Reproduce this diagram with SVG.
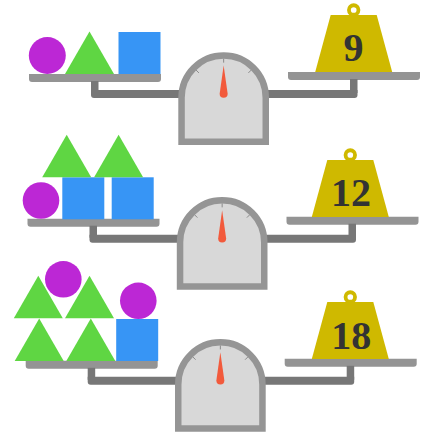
<svg xmlns="http://www.w3.org/2000/svg" xmlns:xlink="http://www.w3.org/1999/xlink" width="421" height="435" viewBox="0 0 421 435">
<style>
.pan{fill:#949494}
.bar{fill:#777777}
.body{fill:#d8d8d8;stroke:#959595;stroke-width:6.5}
.tick{stroke:#8a8a8a;stroke-width:1}
.needle{fill:#f25a3c}
.ball{fill:#bc27d5}
.tri{fill:#5fd643}
.box{fill:#3795f5}
.wt{fill:#cfb900}
.ring{fill:none;stroke:#cfb900;stroke-width:3.8}
.num{font-family:"Liberation Serif","DejaVu Serif",serif;font-weight:bold;font-size:40px;fill:#333333;text-anchor:middle}
</style>
<defs>
<g id="scale">
<path class="pan" d="M29,74H161V79A3 3 0 0 1 158,82H32A3 3 0 0 1 29,79Z"/>
<path class="pan" d="M288,72H420V77A3 3 0 0 1 417,80H291A3 3 0 0 1 288,77Z"/>
<rect class="bar" x="91" y="81" width="7.5" height="12"/>
<rect class="bar" x="350" y="79" width="7.5" height="14"/>
<path class="bar" d="M91,90H357.5V95A3 3 0 0 1 354.5,98H94A3 3 0 0 1 91,95Z"/>
<path class="body" d="M181.55,141.75V97.65A42.1 42.1 0 0 1 265.75,97.65V141.75Z"/>
<line class="tick" x1="223.65" y1="62.65" x2="223.65" y2="58.65"/>
<line class="tick" x1="198.9" y1="72.9" x2="196.07" y2="70.07"/>
<line class="tick" x1="248.4" y1="72.9" x2="251.23" y2="70.07"/>
<path class="needle" d="M223.65,65.5L227.65,93.7A4 4 0 0 1 219.65,93.7Z"/>
</g>
<g id="weight">
<circle class="ring" cx="0" cy="-5" r="4.75"/>
<polygon class="wt" points="-23,0 23,0 38.5,57 -38.5,57"/>
</g>
<polygon id="triangle" class="tri" points="0,0 24.5,42.5 -24.5,42.5"/>
</defs>
<rect width="421" height="435" fill="#ffffff"/>

<g id="scale1">
<use xlink:href="#scale"/>
<g id="scale1-left">
<circle class="ball" cx="47.3" cy="55.5" r="18.5"/>
<use xlink:href="#triangle" x="89.5" y="31.5"/>
<rect class="box" x="118.5" y="32" width="42" height="42"/>
</g>
<g id="weight9">
<use xlink:href="#weight" x="353.7" y="15"/>
<text class="num" x="353.5" y="60.5">9</text>
</g>
</g>

<g id="scale2">
<use xlink:href="#scale" transform="translate(-1.5,144.7)"/>
<g id="scale2-left">
<circle class="ball" cx="41" cy="200.5" r="18.3"/>
<rect class="box" x="62.3" y="177.3" width="42" height="42"/>
<rect class="box" x="111.7" y="177.3" width="42" height="42"/>
<use xlink:href="#triangle" x="66.7" y="134.8"/>
<use xlink:href="#triangle" x="118.6" y="134.8"/>
</g>
<g id="weight12">
<use xlink:href="#weight" x="350.3" y="160"/>
<text class="num" x="351" y="205.5">12</text>
</g>
</g>

<g id="scale3">
<use xlink:href="#scale" transform="translate(-3.3,286.8)"/>
<g id="scale3-left">
<use xlink:href="#triangle" x="39.2" y="318.5"/>
<use xlink:href="#triangle" x="90.8" y="318.5"/>
<use xlink:href="#triangle" x="38.3" y="275.8"/>
<use xlink:href="#triangle" x="89.5" y="275.8"/>
<circle class="ball" cx="63.3" cy="279.3" r="18.3"/>
<rect class="box" x="116.2" y="319" width="42" height="42"/>
<circle class="ball" cx="138.3" cy="300.8" r="18.3"/>
</g>
<g id="weight18">
<use xlink:href="#weight" x="350.3" y="302"/>
<text class="num" x="351.3" y="348.5">18</text>
</g>
</g>
</svg>
